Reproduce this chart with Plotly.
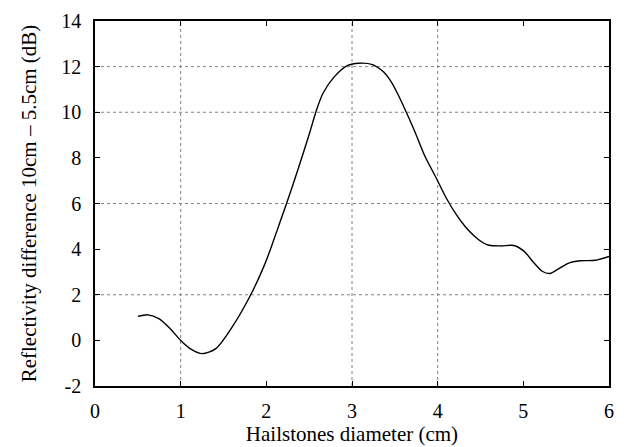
import plotly.graph_objects as go

diameter_cm = [0.50, 0.62, 0.75, 0.88, 1.00, 1.12, 1.25, 1.41, 1.60, 1.83, 1.98, 2.08, 2.16,
               2.235, 2.37, 2.505, 2.58, 2.66, 2.79, 2.95, 3.08, 3.24, 3.37, 3.47, 3.55, 3.63,
               3.74, 3.85, 3.98, 4.10, 4.22, 4.33, 4.45, 4.53, 4.60, 4.74, 4.89, 5.01, 5.11,
               5.22, 5.31, 5.41, 5.53, 5.66, 5.84, 6.00]
refl_diff_db = [1.05, 1.12, 0.94, 0.50, 0.00, -0.38, -0.58, -0.36, 0.58, 2.09, 3.32, 4.33, 5.19,
                5.99, 7.50, 9.09, 10.03, 10.82, 11.54, 12.05, 12.15, 12.09, 11.76, 11.26, 10.68, 10.03,
                9.09, 8.08, 7.14, 6.24, 5.50, 4.95, 4.50, 4.28, 4.17, 4.14, 4.16, 3.90, 3.46,
                3.03, 2.93, 3.13, 3.39, 3.49, 3.51, 3.68]

x_ticks = [0, 1, 2, 3, 4, 5, 6]
y_ticks = [-2, 0, 2, 4, 6, 8, 10, 12, 14]
x_grid = [1, 3, 4]
y_grid = [2, 6, 10, 12]

FONT = "Liberation Serif, Times New Roman, Times, serif"

fig = go.Figure()
fig.add_trace(go.Scatter(x=diameter_cm, y=refl_diff_db, mode="lines",
                         line=dict(color="black", width=1.4, shape="spline", smoothing=0.8),
                         showlegend=False))

shapes = []
for gx in x_grid:
    shapes.append(dict(type="line", xref="x", yref="y", x0=gx, x1=gx, y0=-2, y1=14,
                       line=dict(color="#808080", width=1, dash="dot"), layer="below"))
for gy in y_grid:
    shapes.append(dict(type="line", xref="x", yref="y", x0=0, x1=6, y0=gy, y1=gy,
                       line=dict(color="#808080", width=1, dash="dot"), layer="below"))

fig.update_layout(
    width=624, height=447,
    margin=dict(l=95, r=10, t=16, b=61),
    paper_bgcolor="white", plot_bgcolor="white",
    font=dict(family=FONT, size=19, color="black"),
    shapes=shapes,
    xaxis=dict(range=[0, 6], tickvals=x_ticks, ticktext=[str(v) for v in x_ticks],
               ticks="inside", ticklen=5, tickcolor="black",
               showgrid=False, zeroline=False, showline=True, linecolor="black", linewidth=1.5,
               mirror="ticks", ticklabelstandoff=6,
               title=dict(text="Hailstones diameter (cm)", font=dict(size=21), standoff=1),
               tickfont=dict(size=20)),
    yaxis=dict(range=[-2, 14], tickvals=y_ticks, ticktext=[str(v) for v in y_ticks],
               ticks="inside", ticklen=5, tickcolor="black",
               showgrid=False, zeroline=False, showline=True, linecolor="black", linewidth=1.5,
               mirror="ticks", ticklabelstandoff=8,
               title=dict(text="Reflectivity difference 10cm \u2013 5.5cm (dB)", font=dict(size=21),
                          standoff=19),
               tickfont=dict(size=20)),
)

fig.write_html("out.html")
